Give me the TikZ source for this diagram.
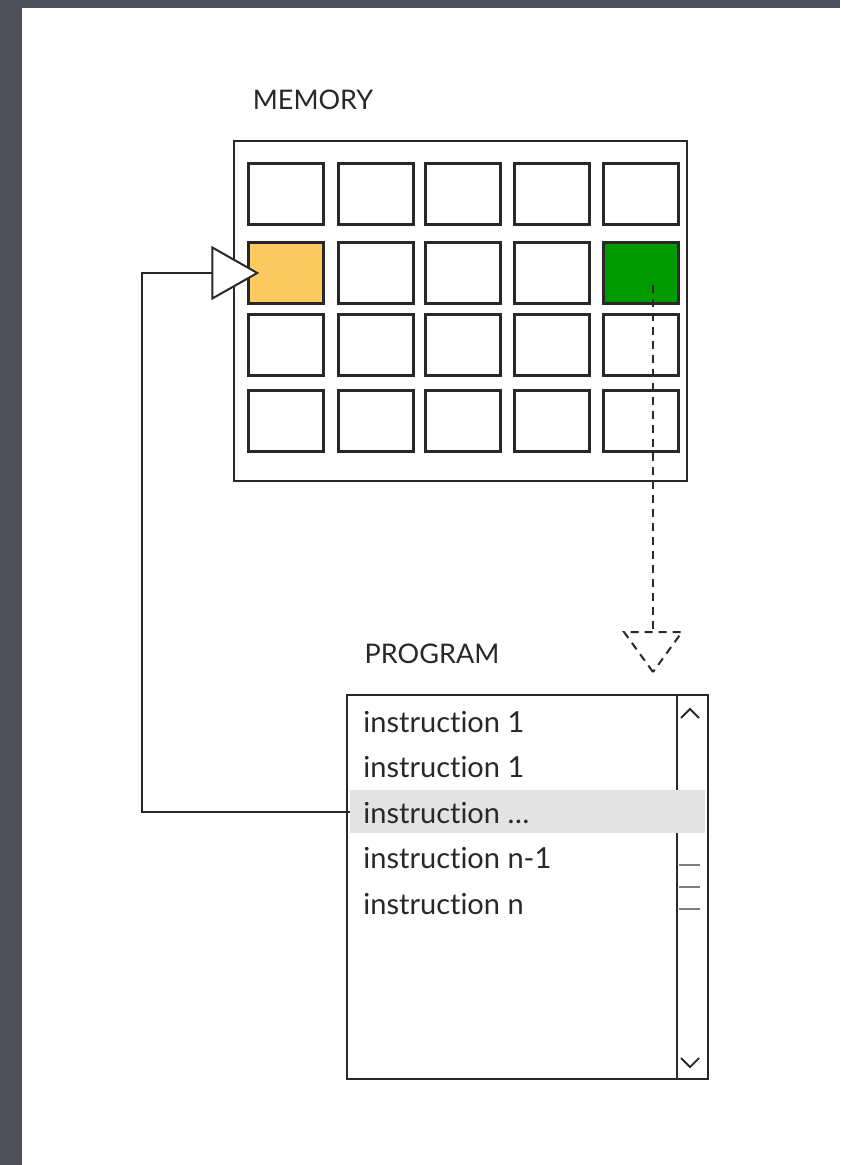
\documentclass[tikz,border=0pt]{standalone}
\usepackage{fontspec}
\setmainfont{Lato}[Ligatures=NoCommon]
\usetikzlibrary{arrows.meta}
\definecolor{slate}{RGB}{78,81,92}
\definecolor{cellorange}{RGB}{253,202,98}
\definecolor{cellgreen}{RGB}{0,153,0}
\definecolor{rowgray}{RGB}{227,227,227}
\definecolor{ink}{RGB}{40,40,40}

\begin{document}
\begin{tikzpicture}
    [x=0.5pt, y=-0.5pt,
     cell/.style={draw=ink, line width=1.2pt, minimum width=37.5pt, minimum height=30.5pt, inner sep=0pt},
     frame/.style={draw=ink, line width=1pt, fill=white, inner sep=0pt},
     title/.style={font=\fontsize{13.5}{15}\selectfont, text=ink},
     item/.style={anchor=west, inner sep=0pt, font=\fontsize{14.5}{16}\selectfont, text=ink},
     link/.style={draw=ink, line width=1pt}]
    \fill[slate] (0,0) rectangle (840,1165);
    \fill[white] (22,8) rectangle (840,1165);
    \useasboundingbox (0,0) rectangle (840,1165);

    % memory
    \node (memtitle) at (313,100) [title] {MEMORY};
    \node (memory) at (460.5,311) [frame, minimum width=226.5pt, minimum height=170pt] {};
    \foreach \y/\r in {194/1,345/3,421/4}
        \foreach \x [count=\c] in {286,376,463,552,641}
            \node (c\r\c) at (\x,\y) [cell] {};
    \foreach \x/\f [count=\c] in {286/cellorange,376/white,463/white,552/white,641/cellgreen}
        \node (c2\c) at (\x,273) [cell, fill=\f] {};

    % program
    \node (progtitle) at (432,654) [title] {PROGRAM};
    \node (program) at (527.5,887) [frame, minimum width=180.5pt, minimum height=192pt] {};
    \node (scroll) at (program.north east) [frame, anchor=north east, minimum width=15.5pt, minimum height=192pt] {};
    \node (current) at (527.5,811.5) [fill=rowgray, minimum width=177.5pt, minimum height=21.5pt, inner sep=0pt] {};
    \draw[ink, line width=0.9pt] (681,718) -- (690,709) -- (699,718);
    \draw[ink, line width=0.9pt] (681,1058) -- (690,1067) -- (699,1058);
    \foreach \y in {865,887,909}
        \draw[ink!60, line width=1.4pt] (679,\y) -- (700,\y);
    \foreach \t [count=\i] in {instruction 1,instruction 1,instruction \ldots,instruction n-1,instruction n}
        \node (ins\i) at (363,{722+45.5*(\i-1)}) [item] {\t};

    % connectors
    \coordinate (loop) at (142,0);
    \draw[link, -{Triangle[open, fill=white, length=24pt, width=27pt]}]
        (current.west) -| (loop |- c21.west) -- ([xshift=6pt]c21.west);
    \coordinate (drop) at (653,672);
    \draw[link, dash pattern=on 4pt off 3pt] ([xshift=6pt,yshift=-6pt]c25.center) -- ([yshift=20pt]drop);
    \draw[link, dash pattern=on 4pt off 3pt] (drop) -- ++(-29,-40) -- ++(58,0) -- cycle;
\end{tikzpicture}
\end{document}
